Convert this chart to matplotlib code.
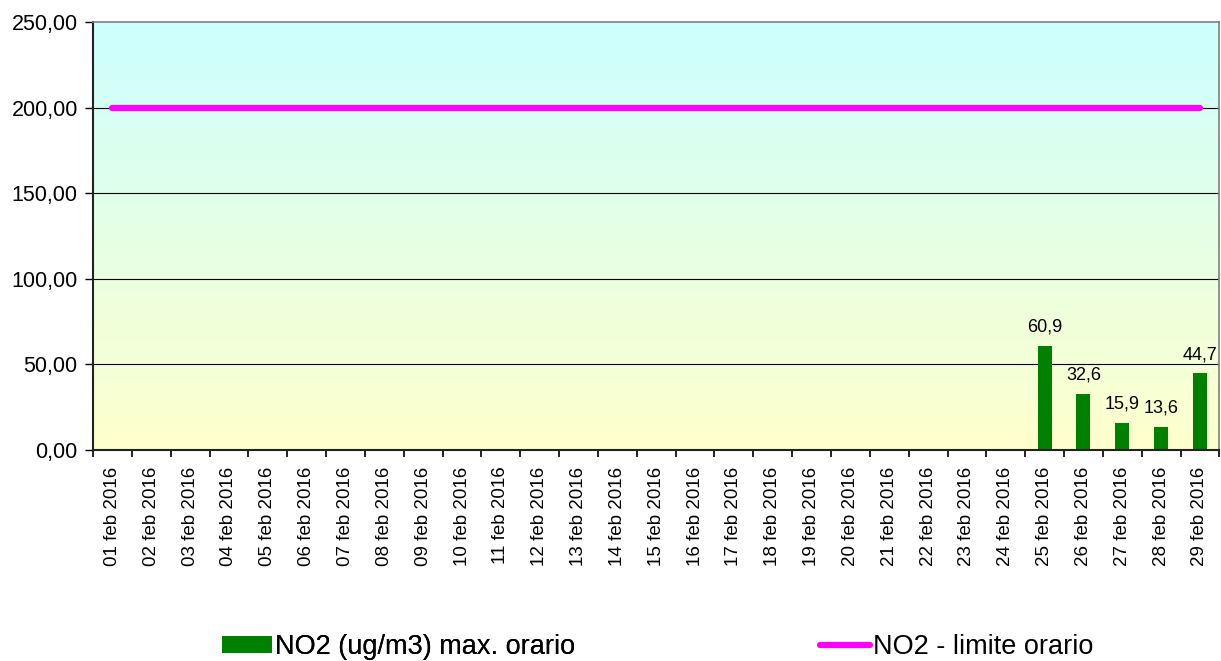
import numpy as np
import matplotlib
matplotlib.use("Agg")
import matplotlib.pyplot as plt
from matplotlib.colors import LinearSegmentedColormap
from matplotlib.lines import Line2D
from matplotlib.patches import Patch

plt.rcParams['font.family'] = ['Liberation Sans', 'DejaVu Sans']

days = [f"{d:02d} feb 2016" for d in range(1, 30)]
no2_max = [0] * 24 + [60.9, 32.6, 15.9, 13.6, 44.7]
no2_limit = [200] * 29
y_ticks = [0, 50, 100, 150, 200, 250]

fig = plt.figure(figsize=(12.21, 6.61), dpi=100)
ax = fig.add_axes([0.0762, 0.3192, 0.9225, 0.6475])

x = np.arange(len(days))
ax.set_xlim(-0.5, len(days) - 0.5)
ax.set_ylim(0, 250)

# vertical gradient background: light yellow at bottom to light cyan at top
cmap = LinearSegmentedColormap.from_list("bg", ["#FFFFCC", "#CCFFFF"])
grad = np.linspace(0, 1, 256).reshape(-1, 1)
ax.imshow(grad, cmap=cmap, aspect='auto', origin='lower',
          extent=[0, 1, 0, 1], transform=ax.transAxes, zorder=0)

for yv in [50, 100, 150, 200]:
    ax.axhline(yv, color='black', linewidth=0.8, zorder=1)

ax.bar(x, no2_max, width=0.36, color='#008000', zorder=2)
ax.plot(x, no2_limit, color='#FF00FF', linewidth=4.5, solid_capstyle='round', zorder=3)

for xi, v in zip(x, no2_max):
    if v > 0:
        ax.text(xi, v + 6, f"{v:.1f}".replace('.', ','), ha='center', va='bottom',
                fontsize=13, color='black', zorder=4)

ax.set_yticks(y_ticks)
ax.set_yticklabels([f"{v:.2f}".replace('.', ',') for v in y_ticks], fontsize=15.5)
ax.set_xticks(np.arange(len(days) + 1) - 0.5, minor=False)
ax.set_xticklabels([])
ax.set_xticks(x, minor=True)
ax.set_xticklabels(days, minor=True, rotation=90, fontsize=13.5)
ax.tick_params(axis='x', which='minor', length=0, pad=12)
ax.tick_params(axis='x', which='major', length=5, width=1.2, direction='out')
ax.tick_params(axis='y', length=6, width=1, direction='out', pad=5)

for side in ['left', 'bottom']:
    ax.spines[side].set_linewidth(1.5)
    ax.spines[side].set_color('#222222')
ax.spines['top'].set_color('#808080')
ax.spines['top'].set_linewidth(1.2)
ax.spines['right'].set_color('#808080')
ax.spines['right'].set_linewidth(1.2)

leg_kw = dict(frameon=False, fontsize=19.5, handlelength=1.85, handleheight=0.6,
              handletextpad=0.1, borderpad=0, borderaxespad=0, loc='center left')
leg1 = fig.legend([Patch(facecolor='#008000', edgecolor='none')],
                  ['NO2 (ug/m3) max. orario'],
                  bbox_to_anchor=(222 / 1221, 0.021), **leg_kw)
fig.add_artist(leg1)
fig.legend([Line2D([0], [0], color='#FF00FF', linewidth=4.5, solid_capstyle='round')],
           ['NO2 - limite orario'],
           bbox_to_anchor=(820 / 1221, 0.021), **leg_kw)

fig.savefig("out.png", dpi=100)
